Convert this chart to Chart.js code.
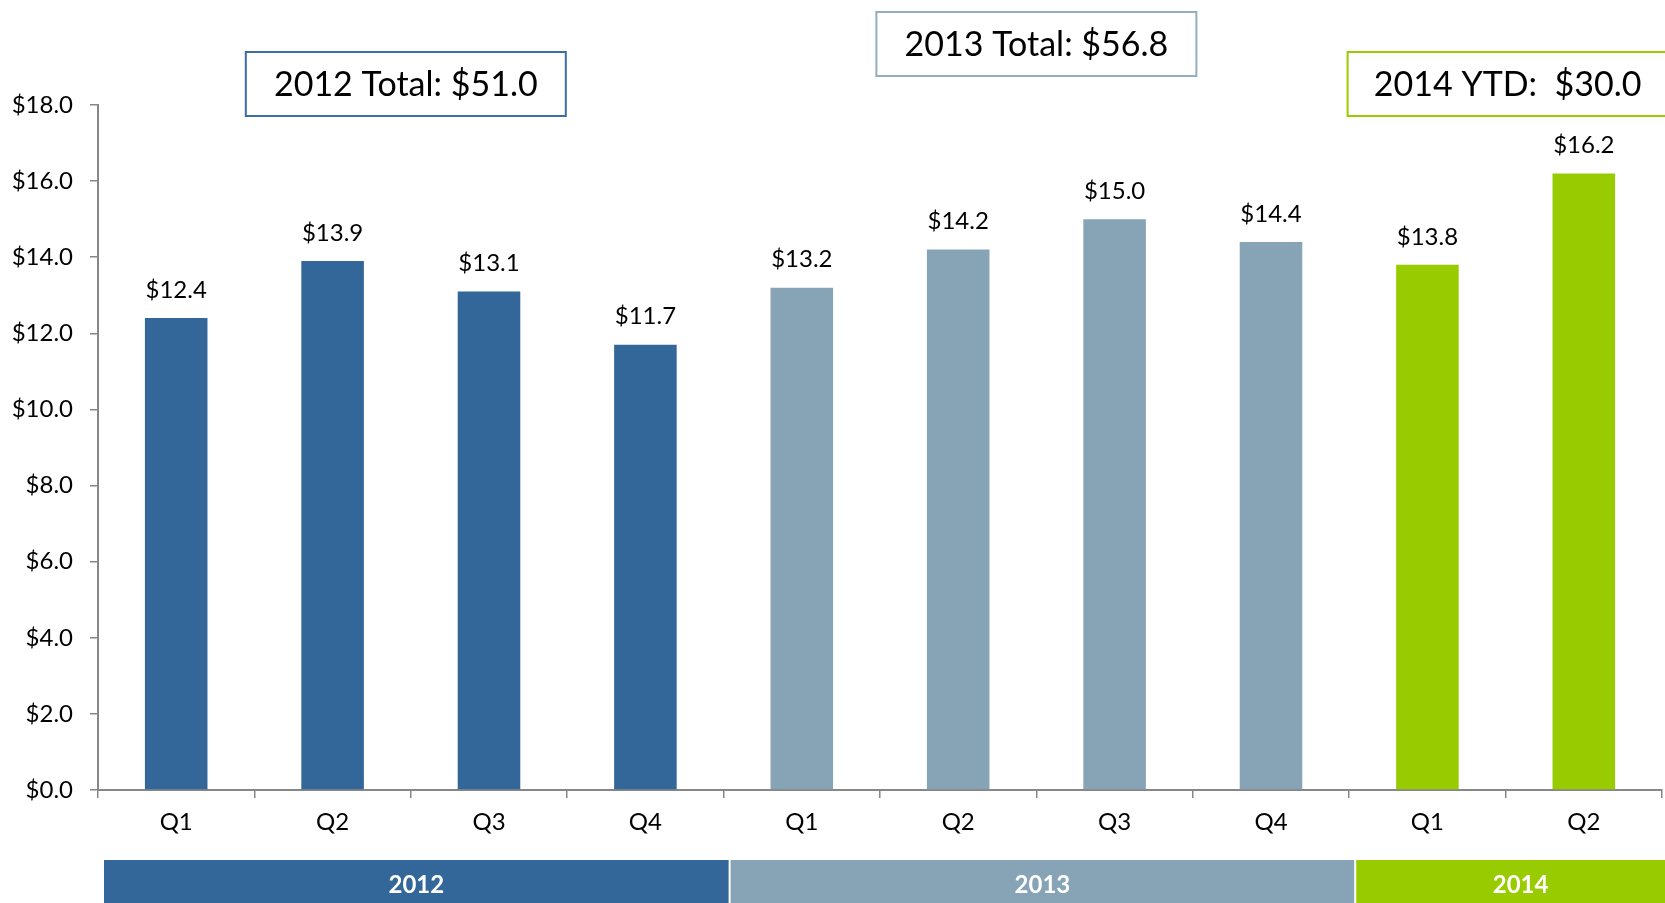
<!DOCTYPE html>
<html>
<head>
<meta charset="utf-8">
<script src="https://cdn.jsdelivr.net/npm/chart.js@4.4.1/dist/chart.umd.min.js"></script>
<style>
  html, body { margin: 0; padding: 0; background: #fff; }
  #wrap { width: 1665px; height: 903px; position: relative; }
</style>
</head>
<body>
<div id="wrap"><canvas id="revenueChart"></canvas></div>
<script>
// quarterly revenue ($M)
const quarters = ["Q1", "Q2", "Q3", "Q4", "Q1", "Q2", "Q3", "Q4", "Q1", "Q2"];
const revenue = [12.4, 13.9, 13.1, 11.7, 13.2, 14.2, 15.0, 14.4, 13.8, 16.2];
const barYear = [0, 0, 0, 0, 1, 1, 1, 1, 2, 2];

const years = ["2012", "2013", "2014"];
const yearTotals = ["2012 Total: $51.0", "2013 Total: $56.8", "2014 YTD:  $30.0"];
const yearColors = ["#336699", "#87A3B6", "#99CC00"];
const boxBorders = ["#3A6EA5", "#93AEC1", "#99CC00"];

const yTicks = [0, 2, 4, 6, 8, 10, 12, 14, 16, 18];

const axisGray = "#878787";
const fontFamily = "Lato, 'Open Sans', sans-serif";

// value labels over each bar
const valueLabels = {
  id: "valueLabels",
  afterDatasetsDraw(chart) {
    const ctx = chart.ctx;
    const meta = chart.getDatasetMeta(0);
    ctx.save();
    ctx.font = "24px " + fontFamily;
    ctx.fillStyle = "#000";
    ctx.textAlign = "center";
    ctx.textBaseline = "middle";
    meta.data.forEach((bar, i) => {
      ctx.fillText("$" + revenue[i].toFixed(1), bar.x, bar.y - 28);
    });
    ctx.restore();
  }
};

// total boxes on top and the year bands underneath
const yearGroups = {
  id: "yearGroups",
  afterDraw(chart) {
    const ctx = chart.ctx;
    const x = chart.scales.x;
    const boxTops = [52, 12, 52];
    const boxShift = [-5, 0, 2];
    ctx.save();
    years.forEach((yr, k) => {
      const idx = barYear.map((b, i) => b === k ? i : -1).filter(i => i >= 0);
      const first = idx[0], last = idx[idx.length - 1];
      const half = (x.getPixelForValue(1) - x.getPixelForValue(0)) / 2;
      const left = x.getPixelForValue(first) - half;
      const right = x.getPixelForValue(last) + half;
      const mid = (left + right) / 2 + boxShift[k];

      // total box
      const bw = 320, bh = 64;
      ctx.fillStyle = "#fff";
      ctx.fillRect(mid - bw / 2, boxTops[k], bw, bh);
      ctx.strokeStyle = boxBorders[k];
      ctx.lineWidth = 2;
      ctx.strokeRect(mid - bw / 2, boxTops[k], bw, bh);
      ctx.fillStyle = "#000";
      ctx.font = "34px " + fontFamily;
      ctx.textAlign = "center";
      ctx.textBaseline = "middle";
      ctx.fillText(yearTotals[k], mid, boxTops[k] + bh / 2 + 1);

      // year band
      const bl = left + 6 + (k > 0 ? 1 : 0);
      const br = k === years.length - 1 ? chart.width + 20 : right + 5;
      ctx.fillStyle = yearColors[k];
      ctx.fillRect(bl, 860, br - bl, 50);
      ctx.fillStyle = "#fff";
      ctx.font = "bold 24px " + fontFamily;
      ctx.fillText(yr, (bl + br) / 2, 885);
    });
    ctx.restore();
  }
};

const ctx = document.getElementById("revenueChart").getContext("2d");
new Chart(ctx, {
  type: "bar",
  data: {
    labels: quarters,
    datasets: [{
      data: revenue,
      backgroundColor: barYear.map(k => yearColors[k]),
      borderWidth: 0,
      barPercentage: 0.4,
      categoryPercentage: 1.0
    }]
  },
  options: {
    responsive: true,
    maintainAspectRatio: false,
    animation: false,
    devicePixelRatio: 1,
    layout: { padding: { top: 105, right: 3, left: 0, bottom: 0 } },
    plugins: {
      legend: { display: false },
      tooltip: { enabled: false }
    },
    scales: {
      x: {
        grid: {
          display: true,
          drawOnChartArea: false,
          tickLength: 8,
          color: axisGray,
          lineWidth: 1.5,
          offset: true
        },
        border: { display: true, color: axisGray, width: 2 },
        ticks: {
          color: "#000",
          font: { family: fontFamily, size: 24 },
          padding: 10,
          maxRotation: 0
        },
        afterFit(scale) { scale.height = 113; }
      },
      y: {
        min: 0,
        max: 18,
        afterBuildTicks(scale) { scale.ticks = yTicks.map(v => ({ value: v })); },
        grid: {
          display: true,
          drawOnChartArea: false,
          tickLength: 8,
          color: axisGray,
          lineWidth: 1.5
        },
        border: { display: true, color: axisGray, width: 2 },
        ticks: {
          color: "#000",
          font: { family: fontFamily, size: 24 },
          padding: 17,
          callback: v => "$" + Number(v).toFixed(1)
        },
        afterFit(scale) { scale.width = 98; }
      }
    }
  },
  plugins: [valueLabels, yearGroups]
});
</script>
</body>
</html>
